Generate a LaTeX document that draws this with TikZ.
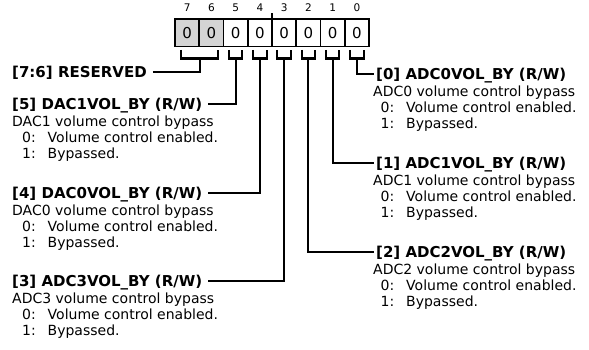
\documentclass[tikz,border=0pt]{standalone}
\usepackage{fontspec}
\setmainfont{DejaVu Sans}
\begin{document}
\begin{tikzpicture}[x=1pt,y=-1pt,
  hdr/.style={font=\fontsize{15}{17}\selectfont\bfseries, anchor=west, inner sep=0pt, text height=10.9pt, text depth=0pt},
  body/.style={font=\fontsize{14}{16}\selectfont, anchor=west, inner sep=0pt, text height=10.2pt, text depth=0pt},
  cell/.style={draw, line width=1.8pt, minimum width=24.25pt, minimum height=27.5pt, inner sep=0pt, outer sep=0pt, font=\fontsize{15}{17}\selectfont, anchor=north west},
  bitnum/.style={font=\fontsize{10.5}{12}\selectfont, inner sep=0pt},
  conn/.style={line width=2.1pt},
  resv/.style={fill=black!17},
]
\useasboundingbox (0,0) rectangle (589,350);
% register cells
\foreach \i in {0,...,5} {
  \node[cell] (c\i) at ({175+(7-\i)*24.25},19) {0};
}
\foreach \i in {6,7} {
  \node[cell,resv] (c\i) at ({175+(7-\i)*24.25},19) {0};
}
\foreach \i in {0,...,7} {
  \node[bitnum] (n\i) at ([yshift=11pt]c\i.north) {\i};
}
% nibble tick
\coordinate (tk) at ([yshift=6pt]c4.north east);
\draw[line width=1.5pt] (c4.north east) -- (tk);
% brackets
\foreach \i in {0,...,5} {
  \draw[conn] ([xshift=-6.7pt,yshift=-3.5pt]c\i.south) -- ++(0,8.5) -- ++(13.4,0) -- ++(0,-8.5);
  \coordinate (b\i) at ([yshift=-12pt]c\i.south);
}
\draw[conn] ([xshift=-18.5pt,yshift=-3.5pt]c7.south east) -- ++(0,8.5) -- ++(37,0) -- ++(0,-8.5);
\coordinate (bR) at ([xshift=0.8pt,yshift=-12pt]c7.south east);

% left labels
\node[hdr] (hR) at (12,72) {[7:6] RESERVED};

\node[hdr] (h5) at (12,104) {[5] DAC1VOL\_BY (R/W)};
\node[body] (d5) at (12,121) {DAC1 volume control bypass};
\node[body] (e5) at (22,137) {\makebox[25.5pt][l]{0:}Volume control enabled.};
\node[body] (f5) at (22,153) {\makebox[25.5pt][l]{1:}Bypassed.};

\node[hdr] (h4) at (12,193) {[4] DAC0VOL\_BY (R/W)};
\node[body] (d4) at (12,210) {DAC0 volume control bypass};
\node[body] (e4) at (22,226) {\makebox[25.5pt][l]{0:}Volume control enabled.};
\node[body] (f4) at (22,242) {\makebox[25.5pt][l]{1:}Bypassed.};

\node[hdr] (h3) at (12,281) {[3] ADC3VOL\_BY (R/W)};
\node[body] (d3) at (12,298) {ADC3 volume control bypass};
\node[body] (e3) at (22,314) {\makebox[25.5pt][l]{0:}Volume control enabled.};
\node[body] (f3) at (22,330) {\makebox[25.5pt][l]{1:}Bypassed.};

% right labels
\node[hdr] (h0) at (376,74) {[0] ADC0VOL\_BY (R/W)};
\node[body] (d0) at (373,91) {ADC0 volume control bypass};
\node[body] (e0) at (380.5,107) {\makebox[25.5pt][l]{0:}Volume control enabled.};
\node[body] (f0) at (380.5,123) {\makebox[25.5pt][l]{1:}Bypassed.};

\node[hdr] (h1) at (376,163) {[1] ADC1VOL\_BY (R/W)};
\node[body] (d1) at (373,180) {ADC1 volume control bypass};
\node[body] (e1) at (380.5,196) {\makebox[25.5pt][l]{0:}Volume control enabled.};
\node[body] (f1) at (380.5,212) {\makebox[25.5pt][l]{1:}Bypassed.};

\node[hdr] (h2) at (376,252) {[2] ADC2VOL\_BY (R/W)};
\node[body] (d2) at (373,269) {ADC2 volume control bypass};
\node[body] (e2) at (380.5,285) {\makebox[25.5pt][l]{0:}Volume control enabled.};
\node[body] (f2) at (380.5,301) {\makebox[25.5pt][l]{1:}Bypassed.};

% connectors
\draw[conn] ([xshift=6pt]hR.east) -| (bR);
\draw[conn] ([xshift=6pt]h5.east) -| (b5);
\draw[conn] ([xshift=6pt]h4.east) -| (b4);
\draw[conn] ([xshift=6pt]h3.east) -| (b3);
\draw[conn] (b0) |- ([xshift=-2pt]h0.west);
\draw[conn] (b1) |- ([xshift=-2pt]h1.west);
\draw[conn] (b2) |- ([xshift=-2pt]h2.west);
\end{tikzpicture}
\end{document}
